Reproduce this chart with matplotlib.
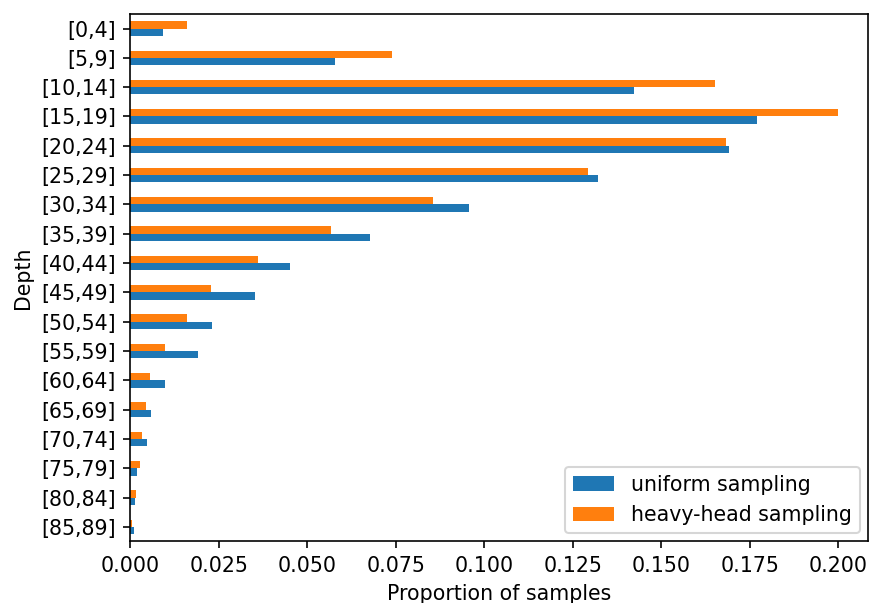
import numpy as np
import matplotlib
matplotlib.use("Agg")
import matplotlib.pyplot as plt

# depth bins
depth_labels = ['[0,4]', '[5,9]', '[10,14]', '[15,19]', '[20,24]', '[25,29]',
                '[30,34]', '[35,39]', '[40,44]', '[45,49]', '[50,54]', '[55,59]',
                '[60,64]', '[65,69]', '[70,74]', '[75,79]', '[80,84]', '[85,89]']

# proportion of samples per depth bin
uniform = [0.0092, 0.0577, 0.1424, 0.1771, 0.1690, 0.1321,
           0.0957, 0.0678, 0.0452, 0.0351, 0.0232, 0.0191,
           0.0098, 0.0057, 0.0047, 0.0019, 0.0014, 0.0010]
heavy_head = [0.0160, 0.0739, 0.1652, 0.2000, 0.1683, 0.1292,
              0.0855, 0.0566, 0.0361, 0.0227, 0.0161, 0.0097,
              0.0056, 0.0045, 0.0033, 0.0026, 0.0016, 0.0006]

# original looks like a default-size figure saved at a higher dpi
dpi = 148
fig = plt.figure(figsize=(869 / dpi, 603 / dpi), dpi=dpi)
ax = fig.add_axes([0.150, 0.102, 0.849, 0.875])

y = np.arange(len(depth_labels))
h = 0.25
ax.barh(y + h / 2, uniform, height=h, color='#1f77b4', label='uniform sampling')
ax.barh(y - h / 2, heavy_head, height=h, color='#ff7f0e', label='heavy-head sampling')

ax.set_yticks(y)
ax.set_yticklabels(depth_labels)
ax.set_ylim(len(depth_labels) - 0.5, -0.5)
ax.set_xlim(0, 0.2084)
ax.set_xticks(np.arange(0, 0.2001, 0.025))
ax.set_xlabel('Proportion of samples')
ax.set_ylabel('Depth')
ax.legend(loc='lower right', borderaxespad=0.4)

plt.savefig('out.png', dpi=dpi)
